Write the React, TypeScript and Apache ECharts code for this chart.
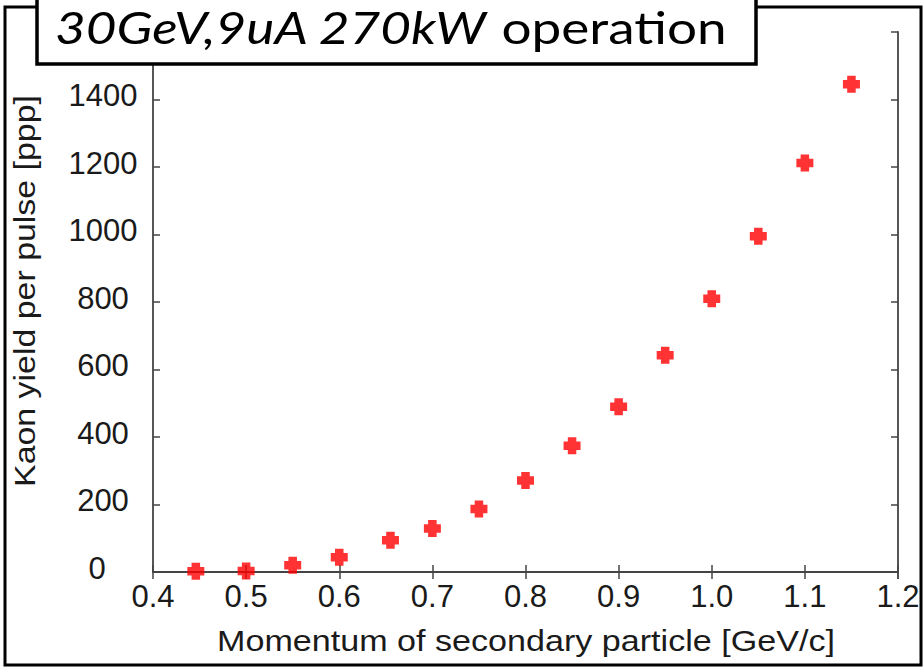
import { useEffect, useRef } from "react";
import * as echarts from "echarts";

// Kaon yield per beam pulse vs. secondary-particle momentum
const momentum = [0.446, 0.5, 0.55, 0.6, 0.655, 0.7, 0.75, 0.8, 0.85, 0.9, 0.95, 1.0, 1.05, 1.1, 1.15];
const kaonYield = [2, 3, 20, 44, 94, 129, 187, 271, 374, 490, 642, 810, 995, 1212, 1445];

const xTicks = [0.4, 0.5, 0.6, 0.7, 0.8, 0.9, 1.0, 1.1, 1.2];
const yTicks = [0, 200, 400, 600, 800, 1000, 1200, 1400];
const yAxisMax = 1600;

const titleItalic = "30GeV,9uA 270kW";
const titleRegular = " operation";
const xTitle = "Momentum of secondary particle [GeV/c]";
const yTitle = "Kaon yield per pulse [ppp]";

const AXIS_COLOR = "#444";
const TEXT_COLOR = "#1a1a1a";
const LABEL_FONT = "Liberation Sans";

const plusSymbol = "path://M4,0H12V4H16V12H12V16H4V12H0V4H4Z";

export default function App() {
  const ref = useRef<HTMLDivElement>(null);

  useEffect(() => {
    if (!ref.current) return;
    const chart = echarts.init(ref.current, undefined, { renderer: "svg" });

    const xStep = xTicks[1] - xTicks[0];
    const yStep = yTicks[1] - yTicks[0];
    const xMin = xTicks[0];
    const xMax = xTicks[xTicks.length - 1];

    const tickCommon = {
      show: true,
      inside: true,
      length: 7,
      lineStyle: { color: AXIS_COLOR, width: 1.5 },
    };
    const lineCommon = { show: true, lineStyle: { color: AXIS_COLOR, width: 1.8 } };

    chart.setOption({
      animation: false,
      backgroundColor: "#ffffff",
      grid: { left: 153, right: 26, top: 32, bottom: 99, containLabel: false },
      xAxis: [
        {
          type: "value",
          min: xMin,
          max: xMax,
          interval: xStep,
          position: "bottom",
          axisLine: lineCommon,
          axisTick: tickCommon,
          splitLine: { show: false },
          axisLabel: {
            margin: 9,
            fontFamily: LABEL_FONT,
            fontSize: 31,
            color: TEXT_COLOR,
            showMaxLabel: true,
            showMinLabel: true,
            formatter: (v: number) => v.toFixed(1),
          },
        },
        {
          type: "value",
          min: xMin,
          max: xMax,
          interval: xStep,
          position: "top",
          axisLine: lineCommon,
          axisTick: tickCommon,
          splitLine: { show: false },
          axisLabel: { show: false },
        },
      ],
      yAxis: [
        {
          type: "value",
          min: 0,
          max: yAxisMax,
          interval: yStep,
          position: "left",
          axisLine: lineCommon,
          axisTick: tickCommon,
          splitLine: { show: false },
          axisLabel: {
            margin: 50,
            align: "center",
            verticalAlign: "bottom",
            lineHeight: 8,
            fontFamily: LABEL_FONT,
            fontSize: 31,
            color: TEXT_COLOR,
            formatter: (v: number) =>
              !yTicks.includes(v) ? "" : v === 0 ? "{z|0}" : String(v),
            rich: {
              z: {
                fontFamily: LABEL_FONT,
                fontSize: 31,
                lineHeight: 8,
                color: TEXT_COLOR,
                padding: [0, 12, 0, 0],
              },
            },
          },
        },
        {
          type: "value",
          min: 0,
          max: yAxisMax,
          interval: yStep,
          position: "right",
          axisLine: lineCommon,
          axisTick: tickCommon,
          splitLine: { show: false },
          axisLabel: { show: false },
        },
      ],
      series: [
        {
          type: "scatter",
          xAxisIndex: 0,
          yAxisIndex: 0,
          data: momentum.map((m, i) => [m, kaonYield[i]]),
          symbol: plusSymbol,
          symbolSize: 17,
          itemStyle: { color: "#ff0000" },
          z: 5,
        },
      ],
      graphic: [
        {
          type: "rect",
          z: 50,
          shape: { x: 5, y: 7, width: 916, height: 658 },
          style: { fill: "none", stroke: "#000", lineWidth: 3 },
        },
        {
          type: "text",
          z: 50,
          x: 526,
          y: 641,
          scaleX: 1.137,
          style: {
            text: xTitle,
            fontFamily: LABEL_FONT,
            fontSize: 30,
            fill: TEXT_COLOR,
            align: "center",
            verticalAlign: "middle",
          },
        },
        {
          type: "text",
          z: 50,
          x: 25,
          y: 291,
          rotation: Math.PI / 2,
          scaleX: 1.13,
          style: {
            text: yTitle,
            fontFamily: LABEL_FONT,
            fontSize: 30,
            fill: TEXT_COLOR,
            align: "center",
            verticalAlign: "middle",
          },
        },
        {
          type: "group",
          z: 100,
          children: [
            {
              type: "rect",
              z: 100,
              shape: { x: 37, y: -10, width: 719, height: 74 },
              style: { fill: "#ffffff", stroke: "#000", lineWidth: 3.5 },
            },
            {
              type: "text",
              z: 101,
              x: 55,
              y: 27,
              scaleX: 1.207,
              style: {
                text: `{i|${titleItalic}}{r|${titleRegular}}`,
                verticalAlign: "middle",
                align: "left",
                rich: {
                  i: { fontFamily: "Lato", fontStyle: "italic", fontSize: 44, lineHeight: 42, fill: "#000" },
                  r: { fontFamily: "Lato", fontSize: 44, lineHeight: 42, fill: "#000" },
                },
              },
            },
          ],
        },
      ],
    });

    return () => chart.dispose();
  }, []);

  return (
    <div
      ref={ref}
      style={{ position: "fixed", left: 0, top: 0, width: 924, height: 671, background: "#fff" }}
    />
  );
}
